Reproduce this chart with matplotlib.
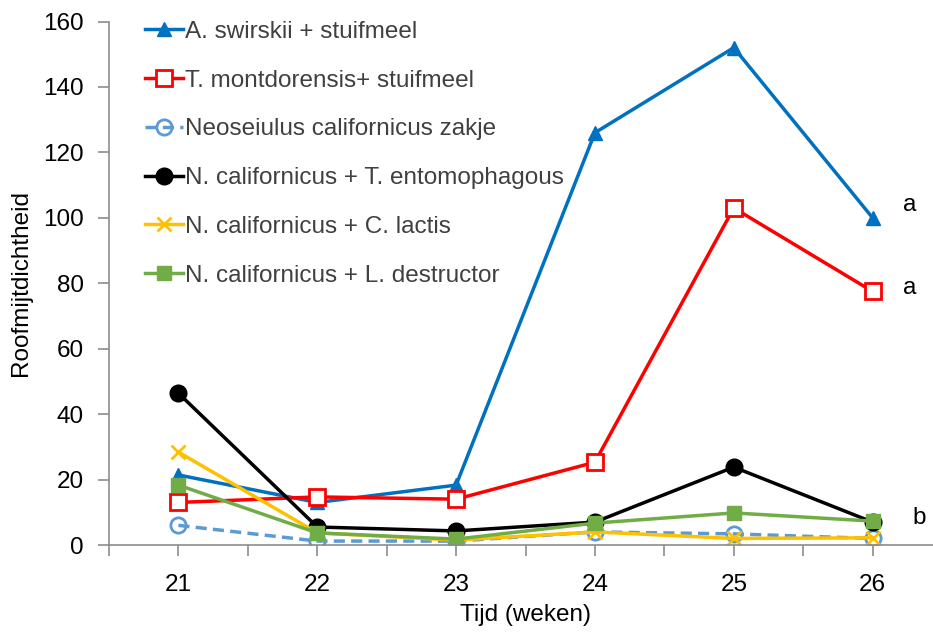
import matplotlib
matplotlib.use("Agg")
import matplotlib.pyplot as plt
from matplotlib.ticker import MultipleLocator

plt.rcParams['font.family'] = ['Liberation Sans', 'DejaVu Sans']

weeks = [21, 22, 23, 24, 25, 26]
week_labels = ["21", "22", "23", "24", "25", "26"]

swirskii = [21.4, 13.0, 18.3, 126.0, 152.0, 100.0]
montdorensis = [13.0, 14.7, 14.0, 25.3, 103.0, 77.5]
californicus_zakje = [6.0, 1.2, 1.2, 4.0, 3.4, 2.0]
calif_entomophagous = [46.4, 5.5, 4.3, 7.0, 23.8, 7.0]
calif_lactis = [28.4, 3.7, 1.5, 4.0, 2.0, 2.2]
calif_destructor = [18.3, 3.7, 1.8, 6.7, 9.8, 7.3]

series_names = [
    "A. swirskii + stuifmeel",
    "T. montdorensis+ stuifmeel",
    "Neoseiulus californicus zakje",
    "N. californicus + T. entomophagous",
    "N. californicus + C. lactis",
    "N. californicus + L. destructor",
]
letters = ["a", "a", "b"]
letter_y = [103.8, 78.5, 8.2]

fig = plt.figure(figsize=(9.33, 6.33), dpi=100)
W, H = 933, 633
ax = fig.add_axes([109 / W, (H - 545) / H, (942 - 109) / W, (545 - 21.5) / H])

LW = 2.5
ax.plot(weeks, swirskii, color='#0070C0', lw=LW, marker='^', ms=10,
        mfc='#0070C0', mec='#0070C0', label=series_names[0])
ax.plot(weeks, montdorensis, color='#FF0000', lw=LW, marker='s', ms=11,
        mfc='white', mec='#FF0000', mew=2, label=series_names[1])
ax.plot(weeks, californicus_zakje, color='#5B9BD5', lw=LW, ls=(0, (3.2, 1.8)),
        marker='o', ms=11, mfc='none', mec='#5B9BD5', mew=2, label=series_names[2])
ax.plot(weeks, calif_entomophagous, color='black', lw=LW, marker='o', ms=12,
        mfc='black', mec='black', label=series_names[3])
ax.plot(weeks, calif_lactis, color='#FFC000', lw=LW, marker='x', ms=10,
        mew=2, mec='#FFC000', label=series_names[4])
ax.plot(weeks, calif_destructor, color='#70AD47', lw=LW, marker='s', ms=10,
        mfc='#70AD47', mec='#70AD47', label=series_names[5])

ax.text(26.22, letter_y[0], letters[0], fontsize=17.5, va='center', ha='left')
ax.text(26.22, letter_y[1], letters[1], fontsize=17.5, va='center', ha='left')
ax.text(26.29, letter_y[2], letters[2], fontsize=17.5, va='center', ha='left')

ax.set_xlim(20.5, 26.5)
ax.set_ylim(0, 160)
ax.set_xticks(weeks)
ax.set_xticklabels(week_labels)
ax.xaxis.set_minor_locator(MultipleLocator(0.5))
ax.yaxis.set_major_locator(MultipleLocator(20))

for s in ['top', 'right']:
    ax.spines[s].set_visible(False)
for s in ['left', 'bottom']:
    ax.spines[s].set_color('#8C8C8C')
    ax.spines[s].set_linewidth(1.2)

ax.tick_params(axis='both', which='both', color='#8C8C8C', width=1.2,
               direction='out', labelsize=17.5)
ax.tick_params(axis='x', which='major', length=8, pad=13)
ax.tick_params(axis='x', which='minor', length=8)
ax.tick_params(axis='y', length=8, pad=10)

ax.set_xlabel("Tijd (weken)", fontsize=17.5, labelpad=6)
ax.set_ylabel("Roofmijtdichtheid", fontsize=17.5, labelpad=8)

leg = ax.legend(loc='upper left', bbox_to_anchor=(0.032, 1.02), frameon=False,
                fontsize=17.5, handlelength=1.55, handletextpad=0.1,
                labelspacing=1.1, labelcolor='#404040', borderaxespad=0)

fig.savefig("out.png", dpi=100)
